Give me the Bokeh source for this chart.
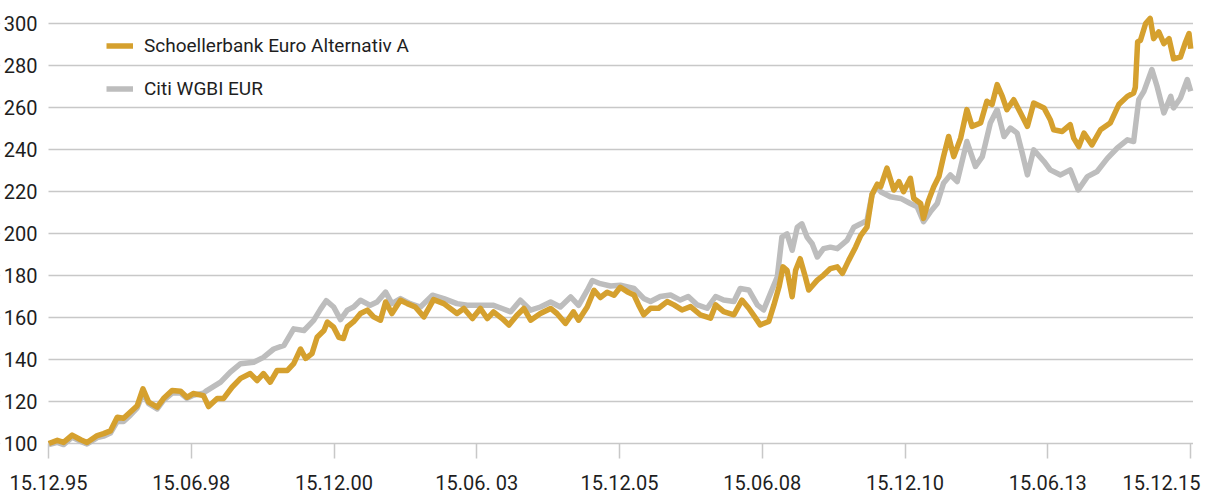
from bokeh.plotting import figure
from bokeh.models import (Range1d, FixedTicker, ColumnDataSource, Legend, LegendItem,
                          BoxAnnotation)
from bokeh.core.properties import value
from bokeh.embed import file_html
from bokeh.resources import INLINE

# ---------------- data ----------------
fund_name = "Schoellerbank Euro Alternativ A"
index_name = "Citi WGBI EUR"

fund_t = [1995.96, 1996.11, 1996.22, 1996.37, 1996.52, 1996.63, 1996.81, 1996.92, 1997.04, 1997.16,
          1997.27, 1997.39, 1997.51, 1997.61, 1997.71, 1997.86, 1997.97, 1998.12, 1998.27, 1998.38,
          1998.49, 1998.67, 1998.76, 1998.91, 1999.02, 1999.17, 1999.32, 1999.49, 1999.61, 1999.72,
          1999.84, 1999.96, 2000.14, 2000.25, 2000.37, 2000.46, 2000.57, 2000.66, 2000.78, 2000.84,
          2000.95, 2001.04, 2001.12, 2001.19, 2001.30, 2001.42, 2001.54, 2001.65, 2001.77, 2001.86,
          2001.97, 2002.12, 2002.24, 2002.38, 2002.53, 2002.70, 2002.88, 2003.11, 2003.23, 2003.38,
          2003.52, 2003.64, 2003.75, 2003.90, 2004.02, 2004.16, 2004.28, 2004.40, 2004.57, 2004.75,
          2004.86, 2005.01, 2005.15, 2005.24, 2005.39, 2005.51, 2005.62, 2005.74, 2005.86, 2005.97,
          2006.09, 2006.21, 2006.29, 2006.38, 2006.50, 2006.64, 2006.79, 2006.91, 2007.05, 2007.20,
          2007.37, 2007.55, 2007.64, 2007.78, 2007.96, 2008.10, 2008.22, 2008.34, 2008.42, 2008.57,
          2008.66, 2008.75, 2008.82, 2008.89, 2008.98, 2009.04, 2009.12, 2009.21, 2009.27, 2009.42,
          2009.53, 2009.65, 2009.77, 2009.86, 2009.97, 2010.09, 2010.18, 2010.29, 2010.38, 2010.47,
          2010.53, 2010.64, 2010.76, 2010.85, 2010.93, 2011.05, 2011.11, 2011.23, 2011.28, 2011.37,
          2011.46, 2011.55, 2011.63, 2011.72, 2011.81, 2011.93, 2012.04, 2012.13, 2012.28, 2012.39,
          2012.48, 2012.57, 2012.66, 2012.74, 2012.86, 2012.98, 2013.10, 2013.21, 2013.39, 2013.50,
          2013.56, 2013.71, 2013.85, 2013.91, 2014.00, 2014.09, 2014.23, 2014.38, 2014.55, 2014.70,
          2014.85, 2014.96, 2014.99, 2015.03, 2015.08, 2015.17, 2015.25, 2015.31, 2015.40, 2015.49,
          2015.58, 2015.66, 2015.78, 2015.87, 2015.93, 2015.96]
fund_v = [100.0, 101.5, 100.5, 104.0, 101.8, 100.5, 103.8, 104.7, 106.0, 112.5,
          112.0, 115.0, 118.0, 126.0, 119.7, 117.3, 121.4, 125.2, 124.9, 122.0,
          123.8, 122.8, 117.6, 121.4, 121.4, 126.8, 131.0, 133.3, 130.0, 133.3,
          129.2, 134.8, 134.8, 138.0, 145.0, 140.5, 142.8, 150.6, 153.8, 157.8,
          155.4, 150.6, 150.0, 155.6, 158.0, 161.9, 163.5, 160.3, 158.7, 167.4,
          161.9, 168.2, 166.6, 165.0, 160.3, 168.5, 166.6, 161.9, 164.3, 159.5,
          164.3, 159.5, 162.7, 159.5, 156.4, 161.1, 164.3, 158.7, 161.9, 164.3,
          161.9, 157.2, 162.7, 158.7, 165.0, 172.9, 169.5, 172.0, 170.6, 174.4,
          172.3, 170.7, 166.0, 161.3, 164.4, 164.4, 167.6, 166.0, 163.6, 165.2,
          161.3, 159.7, 166.0, 162.8, 161.3, 168.3, 164.4, 159.7, 156.5, 158.1,
          166.0, 174.6, 184.1, 182.5, 169.9, 182.5, 188.0, 179.4, 173.1, 177.8,
          180.2, 183.3, 184.1, 181.0, 187.2, 193.5, 199.0, 203.0, 218.7, 223.5,
          222.3, 231.1, 220.7, 224.7, 219.9, 226.3, 216.7, 214.3, 207.2, 215.9,
          222.3, 227.1, 236.6, 246.2, 236.6, 245.4, 259.0, 251.0, 252.6, 263.0,
          261.4, 270.9, 265.3, 259.0, 263.7, 257.4, 251.0, 262.1, 259.8, 254.2,
          249.4, 248.6, 251.8, 245.4, 241.4, 247.8, 242.2, 249.4, 252.6, 261.4,
          265.3, 266.9, 269.6, 291.2, 292.0, 300.0, 302.4, 292.8, 296.0, 290.4,
          292.8, 283.2, 284.0, 291.2, 295.2, 288.0]

index_t = [1995.96, 1996.11, 1996.22, 1996.37, 1996.52, 1996.63, 1996.81, 1996.92, 1997.04, 1997.16,
           1997.27, 1997.39, 1997.51, 1997.61, 1997.71, 1997.86, 1997.97, 1998.12, 1998.27, 1998.38,
           1998.49, 1998.67, 1998.73, 1998.97, 1999.14, 1999.32, 1999.55, 1999.72, 1999.90, 2000.08,
           2000.25, 2000.43, 2000.60, 2000.72, 2000.82, 2000.95, 2001.07, 2001.19, 2001.30, 2001.42,
           2001.59, 2001.71, 2001.86, 2001.97, 2002.12, 2002.29, 2002.47, 2002.68, 2002.88, 2003.11,
           2003.29, 2003.52, 2003.75, 2003.90, 2004.05, 2004.22, 2004.40, 2004.57, 2004.75, 2004.92,
           2005.10, 2005.24, 2005.39, 2005.48, 2005.62, 2005.80, 2005.97, 2006.21, 2006.38, 2006.50,
           2006.67, 2006.85, 2007.02, 2007.16, 2007.32, 2007.49, 2007.64, 2007.78, 2007.96, 2008.07,
           2008.22, 2008.37, 2008.48, 2008.60, 2008.72, 2008.80, 2008.89, 2008.98, 2009.07, 2009.15,
           2009.24, 2009.33, 2009.42, 2009.53, 2009.65, 2009.77, 2009.94, 2010.06, 2010.18, 2010.29,
           2010.38, 2010.47, 2010.53, 2010.70, 2010.88, 2011.05, 2011.17, 2011.28, 2011.40, 2011.52,
           2011.63, 2011.75, 2011.87, 2012.04, 2012.19, 2012.31, 2012.45, 2012.57, 2012.69, 2012.80,
           2012.92, 2013.01, 2013.10, 2013.21, 2013.39, 2013.50, 2013.68, 2013.85, 2013.99, 2014.15,
           2014.32, 2014.50, 2014.67, 2014.85, 2014.96, 2015.05, 2015.14, 2015.28, 2015.37, 2015.49,
           2015.61, 2015.66, 2015.78, 2015.90, 2015.96]
index_v = [99.5, 100.5, 99.5, 103.0, 101.0, 99.8, 102.8, 103.5, 105.0, 110.5,
           110.5, 113.5, 117.0, 124.0, 119.0, 116.5, 120.5, 124.0, 124.0, 121.5,
           123.0, 124.0, 125.2, 129.2, 134.0, 138.0, 138.7, 141.0, 145.0, 146.7,
           154.6, 153.8, 158.6, 164.0, 168.0, 165.0, 159.0, 163.5, 165.0, 168.2,
           165.8, 167.4, 172.1, 166.6, 169.0, 166.6, 165.0, 170.6, 169.0, 166.6,
           165.8, 165.8, 165.8, 164.3, 162.7, 168.2, 163.5, 165.0, 167.4, 165.0,
           169.8, 165.8, 172.9, 177.6, 176.1, 175.0, 175.4, 173.8, 169.1, 167.6,
           170.0, 170.7, 168.3, 170.0, 166.0, 164.4, 170.0, 168.3, 167.6, 173.8,
           173.1, 166.0, 163.6, 171.5, 179.4, 198.3, 199.8, 192.0, 203.0, 204.6,
           198.3, 195.1, 188.8, 192.8, 193.5, 192.8, 196.7, 203.0, 204.6, 206.2,
           218.7, 222.7, 219.9, 217.5, 216.7, 214.3, 212.7, 205.6, 210.3, 214.3,
           223.9, 227.9, 224.7, 243.8, 231.9, 236.6, 252.6, 259.0, 246.2, 250.2,
           247.8, 238.2, 227.9, 239.8, 234.3, 230.3, 227.9, 230.3, 220.7, 227.1,
           229.5, 235.8, 240.6, 244.6, 243.8, 263.7, 267.7, 278.1, 270.1, 257.4,
           265.3, 259.8, 264.5, 273.3, 267.7]

y_ticks = [100, 120, 140, 160, 180, 200, 220, 240, 260, 280, 300]
x_tick_years = [1995.956, 1998.455, 2000.956, 2003.455, 2005.956, 2008.455, 2010.956, 2013.455, 2015.956]
x_tick_labels = ["15.12.95", "15.06.98", "15.12.00", "15.06. 03", "15.12.05",
                 "15.06.08", "15.12.10", "15.06.13", "15.12.15"]

# ---------------- layout / styling ----------------
FONT = "Roboto"
GOLD = "#D5A02E"
GREY = "#BDBDBD"
GRID = "#C8C8C8"
TEXT = "#1E1E1E"
W, H = 1207, 493
PX_PER_YEAR = 57.1       # horizontal scale
PX_PER_UNIT = 2.1        # vertical scale
PLOT_LEFT_PX = 48        # where the value lines / grid begin
BASE_PX = 443            # pixel row of the 100 line
TOP_PX = 23              # pixel row of the 300 line
GRID_END = 2016.0        # right end of the horizontal grid lines

x0 = x_tick_years[0] - PLOT_LEFT_PX / PX_PER_YEAR
x1 = x0 + W / PX_PER_YEAR
y0 = y_ticks[0] - (H - BASE_PX) / PX_PER_UNIT
y1 = y_ticks[-1] + TOP_PX / PX_PER_UNIT

# the frame covers the whole page, so that every label stays inside it
p = figure(width=W, height=H, output_backend="svg", toolbar_location=None,
           x_range=Range1d(x0, x1), y_range=Range1d(y0, y1),
           min_border_left=0, min_border_right=0, min_border_top=0, min_border_bottom=0)
p.outline_line_color = None
p.background_fill_color = "white"
p.border_fill_color = "white"

# grid
p.ygrid.ticker = FixedTicker(ticks=y_ticks)
p.ygrid.grid_line_color = GRID
p.ygrid.grid_line_width = 1.5
p.xgrid.visible = False
# grid lines only between the first date and the right end
for kw in (dict(right=x_tick_years[0]), dict(left=GRID_END)):
    p.add_layout(BoxAnnotation(fill_color="white", fill_alpha=1, line_color=None,
                               level="underlay", **kw))

r_idx = p.line(index_t, index_v, line_color=GREY, line_width=5.5, line_join="round")
r_fund = p.line(fund_t, fund_v, line_color=GOLD, line_width=5.5, line_join="round")

# y axis at the first date
p.yaxis.fixed_location = x_tick_years[0]
p.yaxis.ticker = FixedTicker(ticks=y_ticks)
p.yaxis.axis_line_color = None
p.yaxis.major_tick_line_color = None
p.yaxis.minor_tick_line_color = None
p.yaxis.major_label_standoff = 5
p.yaxis.major_label_text_font = FONT
p.yaxis.major_label_text_font_size = "20px"
p.yaxis.major_label_text_color = TEXT

# x axis: tick marks at the 100 line (labels drawn separately below)
p.xaxis.fixed_location = y_ticks[0]
p.xaxis.ticker = FixedTicker(ticks=x_tick_years)
p.xaxis.major_label_overrides = {t: "" for t in x_tick_years}
p.xaxis.axis_line_color = None
p.xaxis.major_tick_line_color = GRID
p.xaxis.major_tick_line_width = 1.5
p.xaxis.major_tick_in = 0
p.xaxis.major_tick_out = 15
p.xaxis.minor_tick_line_color = None

# date labels (the last one is kept inside the page, as in the original)
n = len(x_tick_years)
lab_src = ColumnDataSource(dict(
    x=x_tick_years,
    y=[y_ticks[0]] * n,
    text=x_tick_labels,
    align=["center"] * (n - 1) + ["right"],
    xoff=[0] * (n - 1) + [10],
))
p.text(x="x", y="y", text="text", source=lab_src, text_align="align",
       x_offset="xoff", y_offset=39, text_baseline="alphabetic",
       text_font=value(FONT), text_font_size=value("20px"), text_color=TEXT)

legend = Legend(items=[LegendItem(label=fund_name, renderers=[r_fund]),
                       LegendItem(label=index_name, renderers=[r_idx])],
                location=(106, 392), padding=0, margin=0, spacing=18,
                glyph_width=27, glyph_height=25, label_height=25, label_standoff=11,
                label_text_font=FONT, label_text_font_size="19px", label_text_color=TEXT,
                background_fill_alpha=0, border_line_alpha=0)
p.add_layout(legend)

open("out.html", "w").write(file_html(p, INLINE))
